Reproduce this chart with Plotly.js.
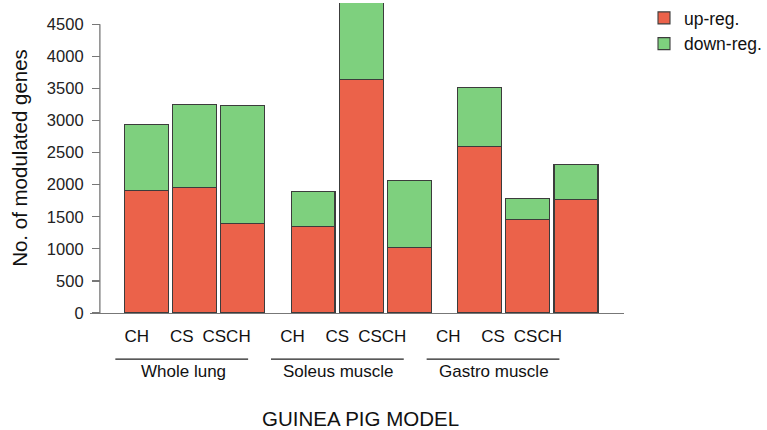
<!DOCTYPE html>
<html>
<head>
<meta charset="utf-8">
<script src="https://cdn.plot.ly/plotly-3.0.1.min.js"></script>
<style>html,body{margin:0;padding:0;background:#fff;}#chart{width:767px;height:430px;}</style>
</head>
<body>
<div id="chart"></div>
<script>
// ---- data ----
const groups = ['Whole lung', 'Soleus muscle', 'Gastro muscle'];
const conditions = ['CH', 'CS', 'CSCH'];
const upReg   = [1914, 1950, 1394,   1354, 3638, 1019,   2589, 1451, 1764];
const downReg = [1030, 1296, 1837,    534, 1300, 1050,    926,  329,  556];
const yTicks = [0, 500, 1000, 1500, 2000, 2500, 3000, 3500, 4000, 4500];
const xTitle = 'GUINEA PIG MODEL';
const yTitle = 'No. of modulated genes';

// ---- layout helpers ----
const GROUP_PITCH = 3.47;
const xs = [], labels = [];
groups.forEach((g, gi) => conditions.forEach((c, ci) => {
  xs.push(gi * GROUP_PITCH + ci);
  labels.push(c);
}));
const groupCenters = groups.map((g, gi) => gi * GROUP_PITCH + 1);

const FONT = 'Liberation Sans, Arial, Helvetica, sans-serif';
const lineStyle = {color: '#3c3c3c', width: 1.1};

const traces = [
  {type: 'bar', name: 'up-reg.', x: xs, y: upReg, width: 0.914,
   marker: {color: '#EB624A', line: lineStyle}, hoverinfo: 'y'},
  {type: 'bar', name: 'down-reg.', x: xs, y: downReg, width: 0.914,
   marker: {color: '#7ED07E', line: lineStyle}, hoverinfo: 'y'},
  {type: 'scatter', mode: 'markers', x: xs, y: xs.map(() => null), xaxis: 'x2', yaxis: 'y',
   showlegend: false, hoverinfo: 'skip'}
];

const shapes = [
  // y axis line (0 .. 4500)
  {type: 'line', xref: 'paper', yref: 'y', x0: 0.0185, x1: 0.0185, y0: 0, y1: yTicks[yTicks.length - 1],
   line: {color: '#777', width: 1.3}}
];
groupCenters.forEach(c => shapes.push({
  type: 'line', xref: 'x2', yref: 'paper', x0: c - 1.48, x1: c + 1.48, y0: -0.149, y1: -0.149,
  line: {color: '#222', width: 1.3}
}));

const annotations = groups.map((g, gi) => ({
  text: g, xref: 'x2', yref: 'paper', x: groupCenters[gi] + 0.03, y: -0.19,
  showarrow: false, xanchor: 'center', yanchor: 'middle',
  font: {family: FONT, size: 17, color: '#111'}
}));
annotations.push({
  text: xTitle, xref: 'paper', yref: 'paper', x: 0.5065, y: -0.339,
  showarrow: false, xanchor: 'center', yanchor: 'middle',
  font: {family: FONT, size: 20.5, color: '#111'}
});

const layout = {
  width: 767, height: 430,
  margin: {l: 90, r: 136, t: 0, b: 117, pad: 0},
  paper_bgcolor: '#fff', plot_bgcolor: '#fff',
  barmode: 'stack',
  font: {family: FONT, color: '#111'},
  showlegend: true,
  legend: {x: 1.038, y: 1.01, xanchor: 'left', yanchor: 'top', traceorder: 'normal',
           font: {family: FONT, size: 17.5, color: '#111'}, bgcolor: 'rgba(0,0,0,0)',
           itemwidth: 30, tracegroupgap: 0},
  xaxis: {range: [-1.17, 9.939], showgrid: false, zeroline: false, showticklabels: false,
          ticks: '', showline: true, linecolor: '#777', linewidth: 1.3, fixedrange: true},
  xaxis2: {overlaying: 'x', anchor: 'y', side: 'bottom', range: [-1.045, 10.86],
           tickvals: xs, ticktext: labels, ticks: 'outside', ticklen: 8, tickcolor: 'rgba(0,0,0,0)',
           showgrid: false, zeroline: false, showline: false,
           tickfont: {family: FONT, size: 17, color: '#111'}},
  yaxis: {range: [0, 4832], anchor: 'free', position: 0.0185, tickvals: yTicks,
          ticks: 'outside', ticklen: 8, tickcolor: '#777', tickwidth: 1.2,
          ticklabelstandoff: 5,
          showgrid: false, zeroline: false, showline: false,
          tickfont: {family: FONT, size: 16.5, color: '#222'},
          title: {text: yTitle, standoff: 12, font: {family: FONT, size: 20.5, color: '#111'}}},
  shapes: shapes,
  annotations: annotations
};

Plotly.newPlot('chart', traces, layout, {displayModeBar: false, staticPlot: true});
</script>
</body>
</html>
